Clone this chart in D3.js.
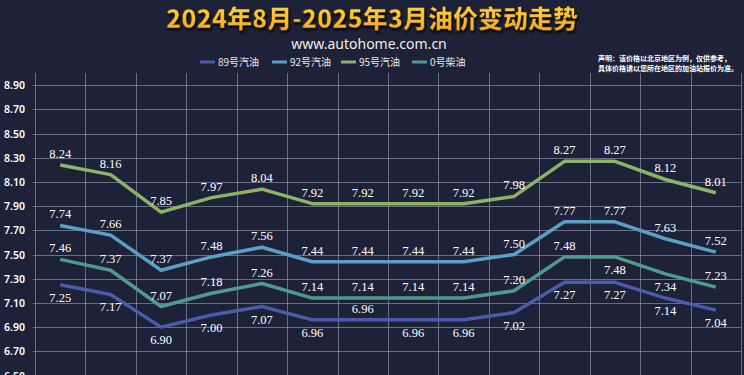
<!DOCTYPE html>
<html>
<head>
<meta charset="utf-8">
<script src="https://cdn.jsdelivr.net/npm/d3@7"></script>
<style>
  html, body { margin: 0; padding: 0; background: #1d2238; }
  svg { display: block; }
</style>
</head>
<body>
<script>
// Monthly price points, Aug 2024 - Mar 2025 (Beijing)
var points = d3.range(14);
var p89 = [7.25, 7.17, 6.90, 7.00, 7.07, 6.96, 6.96, 6.96, 6.96, 7.02, 7.27, 7.27, 7.14, 7.04];
var p92 = [7.74, 7.66, 7.37, 7.48, 7.56, 7.44, 7.44, 7.44, 7.44, 7.50, 7.77, 7.77, 7.63, 7.52];
var p95 = [8.24, 8.16, 7.85, 7.97, 8.04, 7.92, 7.92, 7.92, 7.92, 7.98, 8.27, 8.27, 8.12, 8.01];
var p0  = [7.46, 7.37, 7.07, 7.18, 7.26, 7.14, 7.14, 7.14, 7.14, 7.20, 7.48, 7.48, 7.34, 7.23];
var seriesNames = ["89号汽油", "92号汽油", "95号汽油", "0号柴油"];
var yTicks = [6.5, 6.7, 6.9, 7.1, 7.3, 7.5, 7.7, 7.9, 8.1, 8.3, 8.5, 8.7, 8.9];

var width = 744, height = 375;
var colors = ["#4b5aa9", "#5aa0c6", "#8db466", "#4f9a90"];
var series = [p89, p92, p95, p0];
// which labels sit under the line (others go above)
var below = [
  points.filter(function(i) { return i != 6; }),
  [], [], [11, 12]
];

var svg = d3.select("body").append("svg")
    .attr("width", width)
    .attr("height", height);

var defs = svg.append("defs");
var grad = defs.append("linearGradient").attr("id", "tg")
    .attr("x1", 0).attr("y1", 0).attr("x2", 0).attr("y2", 1);
grad.append("stop").attr("offset", "0%").attr("stop-color", "#ffe04a");
grad.append("stop").attr("offset", "100%").attr("stop-color", "#f2a21c");

var x = d3.scaleBand().domain(points).range([35, 741]);
var y = d3.scaleLinear().domain([6.5, 9.0]).range([375.5, 73]);

// Title
svg.append("text")
    .attr("x", 372).attr("y", 28)
    .attr("text-anchor", "middle")
    .style("font-family", "Noto Sans CJK SC")
    .style("font-weight", 900)
    .style("font-size", "25px")
    .attr("fill", "url(#tg)")
    .attr("stroke", "#3a2a10").attr("stroke-width", 0.6)
    .style("filter", "drop-shadow(1px 2px 1px rgba(0,0,0,0.8))")
    .text("2024年8月-2025年3月油价变动走势");

svg.append("text")
    .attr("x", 369).attr("y", 49)
    .attr("text-anchor", "middle")
    .style("font-family", "Noto Sans")
    .style("font-size", "14px")
    .attr("fill", "#f3ece4")
    .text("www.autohome.com.cn");

// Note
var note = svg.append("text")
    .style("font-family", "Noto Sans CJK SC")
    .style("font-weight", 700)
    .style("font-size", "7px")
    .attr("fill", "#ffffff");
note.append("tspan").attr("x", 598).attr("y", 61).text("声明：该价格以北京地区为例，仅供参考，");
note.append("tspan").attr("x", 598).attr("y", 71).text("具体价格请以您所在地区的加油站报价为准。");

// Legend
var legendX = [200, 272, 341, 412];
var legend = svg.selectAll(".legend").data(seriesNames).enter().append("g")
    .attr("transform", function(d, i) { return "translate(" + legendX[i] + ",62)"; });
legend.append("line")
    .attr("x1", 0).attr("x2", 15)
    .attr("stroke", function(d, i) { return colors[i]; })
    .attr("stroke-width", 3);
legend.append("text")
    .attr("x", 18).attr("y", 4)
    .style("font-family", "Noto Sans CJK SC")
    .style("font-size", "10px")
    .attr("fill", "#e8e8ee")
    .text(function(d) { return d; });

// Grid
svg.append("g").selectAll("line").data(yTicks).enter().append("line")
    .attr("x1", 33).attr("x2", 741)
    .attr("y1", function(d) { return Math.round(y(d)) + 0.5; })
    .attr("y2", function(d) { return Math.round(y(d)) + 0.5; })
    .attr("stroke", "#a8aec0").attr("stroke-opacity", 0.55).attr("stroke-width", 1);

var vlines = points.map(function(i) { return x(i); }).concat([x.range()[1]]);
svg.append("g").selectAll("line").data(vlines).enter().append("line")
    .attr("x1", function(d) { return Math.round(d) + 0.5; })
    .attr("x2", function(d) { return Math.round(d) + 0.5; })
    .attr("y1", 73).attr("y2", height)
    .attr("stroke", "#a8aec0").attr("stroke-opacity", 0.55).attr("stroke-width", 1);

// Y axis labels
svg.append("g").selectAll("text").data(yTicks).enter().append("text")
    .attr("x", 4)
    .attr("y", function(d) { return y(d) + 4; })
    .style("font-family", "Noto Sans")
    .style("font-weight", 600)
    .style("font-size", "10.5px")
    .attr("fill", "#ffffff")
    .text(function(d) { return d3.format(".2f")(d); });

// Lines
var line = d3.line()
    .x(function(d, i) { return x(i) + x.bandwidth() / 2; })
    .y(function(d) { return y(d); });

series.forEach(function(s, k) {
  svg.append("path")
      .datum(s)
      .attr("d", line)
      .attr("fill", "none")
      .attr("stroke", colors[k])
      .attr("stroke-width", 3.5)
      .attr("stroke-linejoin", "round");
});

// Value labels
series.forEach(function(s, k) {
  svg.append("g").selectAll("text").data(s).enter().append("text")
      .attr("x", function(d, i) { return x(i) + x.bandwidth() / 2; })
      .attr("y", function(d, i) {
        return below[k].indexOf(i) >= 0 ? y(d) + 17 : y(d) - 7;
      })
      .attr("text-anchor", "middle")
      .style("font-family", "Liberation Serif")
      .style("font-size", "12.5px")
      .attr("fill", "#ffffff")
      .text(function(d) { return d3.format(".2f")(d); });
});
</script>
</body>
</html>
